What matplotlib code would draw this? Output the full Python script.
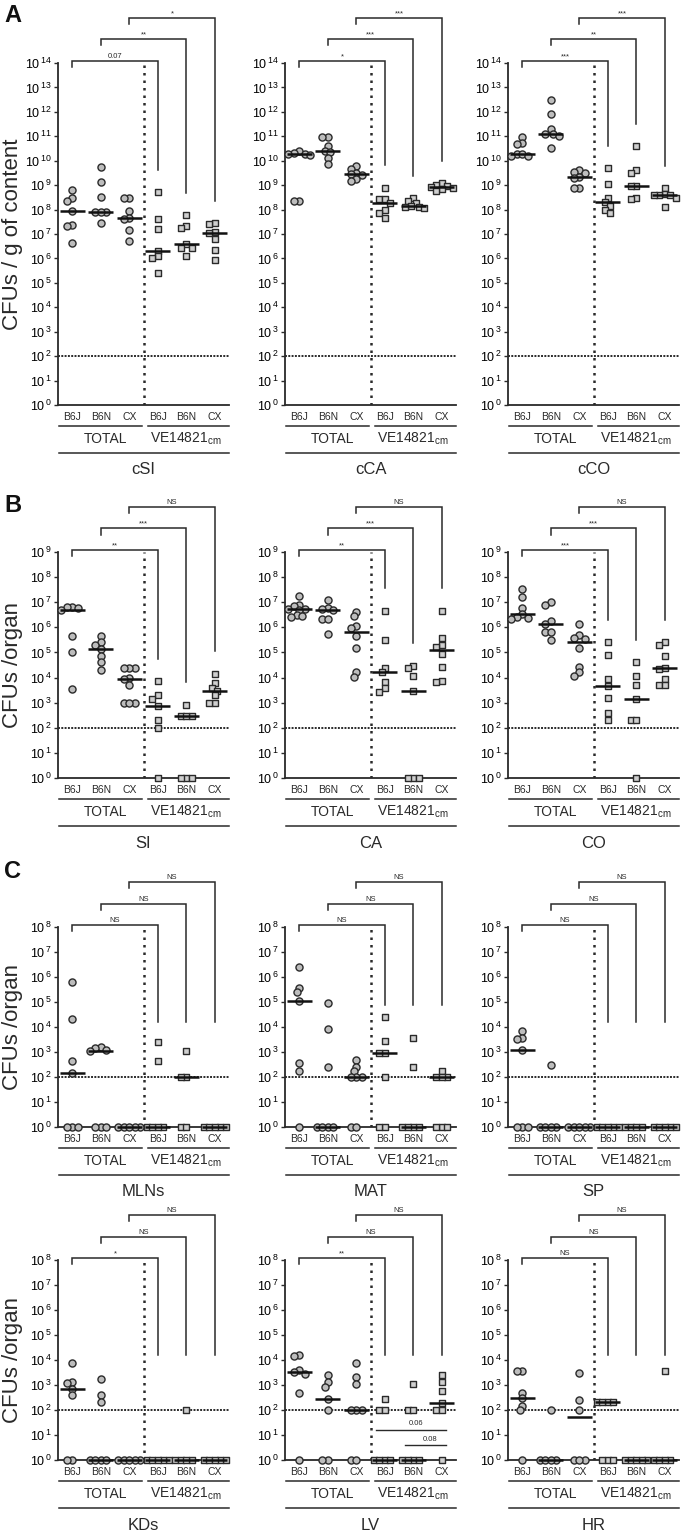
import numpy as np
import matplotlib
matplotlib.use('Agg')
import matplotlib.pyplot as plt
from matplotlib.transforms import ScaledTranslation
from matplotlib.ticker import FuncFormatter, NullLocator

plt.rcParams['font.family'] = ['Liberation Sans', 'DejaVu Sans']
plt.rcParams['mathtext.fontset'] = 'custom'
plt.rcParams['mathtext.rm'] = 'Liberation Sans'
plt.rcParams['mathtext.it'] = 'Liberation Sans:italic'
plt.rcParams['mathtext.bf'] = 'Liberation Sans:bold'

strains = ['B6J', 'B6N', 'CX', 'B6J', 'B6N', 'CX']
# values = CFUs; 1 = below detection (drawn on the axis)
# order: TOTAL B6J, B6N, CX, VE14821cm B6J, B6N, CX
cSI = [[6.6e8, 3e8, 2.3e8, 8.5e7, 2.3e7, 2.1e7, 4.3e6],
       [5.4e9, 1.35e9, 3.2e8, 8e7, 8e7, 8e7, 2.8e7],
       [3e8, 3e8, 9e7, 4.5e7, 4.2e7, 1.5e7, 5e6],
       [5e8, 4e7, 1.6e7, 2.1e6, 1.2e6, 1e6, 2.6e5],
       [6e7, 2.1e7, 1.8e7, 3.9e6, 2.7e6, 2.7e6, 1.3e6],
       [2.8e7, 2.6e7, 1.2e7, 1.1e7, 6e6, 2.3e6, 9e5]]
cCA = [[2.5e10, 2e10, 1.9e10, 1.8e10, 1.7e10, 2.2e8, 2.2e8],
       [9.5e10, 9.5e10, 4e10, 2.5e10, 2.2e10, 1.3e10, 7e9],
       [6e9, 4.5e9, 3e9, 2.8e9, 2.5e9, 1.8e9, 1.5e9],
       [8e8, 2.6e8, 2.6e8, 1.8e8, 1e8, 7.5e7, 4.5e7],
       [2.9e8, 2.2e8, 1.9e8, 1.35e8, 1.3e8, 1.25e8, 1.2e8],
       [1.2e9, 1e9, 9.5e8, 8.7e8, 8e8, 7e8, 6e8]]
cCO = [[9.5e10, 5.5e10, 5e10, 1.8e10, 1.8e10, 1.6e10, 1.5e10],
       [3.2e12, 8.5e11, 1.9e11, 1.3e11, 1.2e11, 1e11, 3.4e10],
       [4e9, 3.6e9, 3.2e9, 2.1e9, 1.9e9, 7.5e8, 7.5e8],
       [5e9, 1.1e9, 3.1e8, 2e8, 1.4e8, 1e8, 7.5e7],
       [4e10, 4e9, 3e9, 9.3e8, 9e8, 2.9e8, 2.6e8],
       [7.5e8, 4.5e8, 4e8, 3.9e8, 3.8e8, 2.9e8, 1.3e8]]
SI = [[6.6e6, 6.3e6, 6e6, 4.9e6, 4.5e5, 1e5, 3.6e3],
      [4.5e5, 2.6e5, 2e5, 1.4e5, 7e4, 4e4, 2e4],
      [2.5e4, 2.5e4, 2.5e4, 1e4, 8.5e3, 5e3, 1e3, 1e3, 1e3],
      [7e3, 2.1e3, 1.45e3, 7.2e2, 2e2, 1e2, 1],
      [8e2, 3e2, 3e2, 3e2, 1, 1, 1],
      [1.4e4, 6e3, 4e3, 3e3, 2e3, 1e3, 1e3]]
CA = [[1.7e7, 8e6, 7e6, 5.5e6, 5.2e6, 5e6, 3.2e6, 2.8e6, 2.6e6],
      [1.2e7, 6e6, 5.5e6, 5e6, 2.1e6, 2.1e6, 5.5e5],
      [4.2e6, 2.8e6, 1.1e6, 9e5, 4.5e5, 1.5e5, 1.7e4, 1.1e4],
      [4.5e6, 3e5, 2.5e4, 1.7e4, 6.5e3, 3.8e3, 2.6e3],
      [3e4, 2.3e4, 1.2e4, 3e3, 1, 1, 1],
      [4.5e6, 3.7e5, 1.9e5, 1.7e5, 8.5e4, 2.7e4, 7.5e3, 6.5e3]]
CO = [[3.5e7, 1.6e7, 6e6, 3.3e6, 2.5e6, 2.3e6, 2.2e6],
      [1e7, 7.8e6, 1.8e6, 1.3e6, 6.5e5, 6.5e5, 3e5],
      [1.3e6, 5e5, 3.6e5, 3.5e5, 1.5e5, 2.7e4, 1.6e4, 1.2e4],
      [2.5e5, 8e4, 8.5e3, 4.8e3, 1.5e3, 4e2, 2e2],
      [4e4, 1.2e4, 4.9e3, 1.4e3, 2e2, 2e2, 1],
      [2.5e5, 2e5, 7e4, 2.5e4, 2.2e4, 9e3, 5e3, 5e3]]
MLNs = [[6.6e5, 2.1e4, 4.5e2, 1.5e2, 1, 1, 1],
        [1.6e3, 1.4e3, 1.2e3, 1.1e3, 1, 1, 1],
        [1, 1, 1, 1, 1],
        [2.4e3, 4.3e2, 1, 1, 1, 1],
        [1.1e3, 1e2, 1e2, 1, 1],
        [1, 1, 1, 1, 1]]
MAT = [[2.4e6, 3.7e5, 2.5e5, 1.1e5, 3.5e2, 1.7e2, 1],
       [9e4, 8.3e3, 2.6e2, 1, 1, 1, 1],
       [5e2, 2.6e2, 1.7e2, 1e2, 1e2, 1e2, 1, 1],
       [2.6e4, 2.7e3, 9e2, 9e2, 1e2, 1, 1],
       [3.7e3, 2.6e2, 1, 1, 1, 1],
       [1.7e2, 1e2, 1e2, 1e2, 1, 1, 1]]
SP = [[6.9e3, 3.7e3, 3.2e3, 1.25e3, 1, 1, 1],
      [2.9e2, 1, 1, 1, 1],
      [1, 1, 1, 1, 1],
      [1, 1, 1, 1, 1],
      [1, 1, 1, 1],
      [1, 1, 1, 1, 1]]
KDs = [[7.4e3, 1.3e3, 1.2e3, 7e2, 4e2, 1, 1],
       [1.7e3, 4e2, 2e2, 1, 1, 1, 1],
       [1, 1, 1, 1, 1],
       [1, 1, 1, 1, 1],
       [1e2, 1, 1, 1, 1],
       [1, 1, 1, 1, 1]]
LV = [[1.6e4, 1.4e4, 4e3, 3.2e3, 2.8e3, 5e2, 1],
      [2.6e3, 1.3e3, 8.7e2, 2.8e2, 1e2, 1, 1],
      [7.4e3, 2e3, 1.1e3, 1e2, 1e2, 1e2, 1, 1],
      [2.8e2, 1e2, 1e2, 1, 1, 1, 1],
      [1.1e3, 1e2, 1e2, 1, 1, 1, 1],
      [2.4e3, 1.3e3, 5.7e2, 1.9e2, 1e2, 1e2, 1]]
HR = [[3.5e3, 3.5e3, 5e2, 3e2, 1.5e2, 1e2, 1],
      [1e2, 1, 1, 1, 1],
      [3e3, 2.5e2, 1e2, 1, 1, 1],
      [2e2, 2e2, 2e2, 2e2, 1, 1, 1],
      [1, 1, 1, 1, 1],
      [3.5e3, 1, 1, 1, 1]]

panels = ['cSI', 'cCA', 'cCO', 'SI', 'CA', 'CO', 'MLNs', 'MAT', 'SP', 'KDs', 'LV', 'HR']
panel_data = [cSI, cCA, cCO, SI, CA, CO, MLNs, MAT, SP, KDs, LV, HR]
sig = [['0.07', '**', '*'], ['*', '***', '***'], ['***', '**', '***'],
       ['**', '***', 'NS'], ['**', '***', 'NS'], ['***', '***', 'NS'],
       ['NS', 'NS', 'NS'], ['NS', 'NS', 'NS'], ['NS', 'NS', 'NS'],
       ['*', 'NS', 'NS'], ['**', 'NS', 'NS'], ['NS', 'NS', 'NS']]
# extra comparisons within VE14821cm in LV: (from, to, y, label)
lv_extra = [(3, 5, 16, '0.06'), (4, 5, 4, '0.08')]

W, H = 685, 1533
fig = plt.figure(figsize=(W / 100, H / 100), dpi=100)
col_left = [58, 285, 508]
rows = [(63, 405, 14), (552, 778, 9), (927, 1127, 8), (1260, 1460, 8)]
ax_w = 171
dark = '#2a2a2a'


def below(ax, dy):
    return ax.get_xaxis_transform() + ScaledTranslation(0, -dy / 100, fig.dpi_scale_trans)


def swarm(ax, x0, vals, dia=7.6):
    # spread points of similar value sideways, allowing some overlap
    placed = []
    out = np.zeros(len(vals))
    inv = ax.transData.inverted()
    for i in np.argsort(vals)[::-1]:
        cx, cy = ax.transData.transform((x0, vals[i]))
        for k in [0, -1, 1, -2, 2, -3, 3, -4, 4, -5, 5, -6, 6]:
            px = cx + k * dia * 0.36
            if all(np.hypot(px - qx, cy - qy) >= dia * 0.66 for qx, qy in placed):
                break
        placed.append((px, cy))
        out[i] = inv.transform((px, cy))[0]
    return out


def bracket(ax, i, j, up, label, leg):
    inv = ax.transData.inverted()
    top = ax.transAxes.transform((0, 1))[1] + up
    yl = inv.transform((0, top))[1]
    y0 = inv.transform((0, top - 6))[1]
    ax.plot([i, i, j, j], [y0, yl, yl, leg], color=dark, lw=1.1, clip_on=False,
            solid_joinstyle='miter')
    ax.annotate(label, xy=((i + j) / 2, yl), xytext=(0, 0.5), textcoords='offset points',
                ha='center', va='bottom', fontsize=5.5, color=dark, annotation_clip=False)


for p, name in enumerate(panels):
    r, c = divmod(p, 3)
    top_px, bot_px, ytop = rows[r]
    ax = fig.add_axes([col_left[c] / W, 1 - bot_px / H, ax_w / W, (bot_px - top_px) / H])
    ax.set_yscale('log')
    ax.set_ylim(1, 10.0 ** ytop)
    ax.set_xlim(-0.5, 5.5)
    ax.set_yticks(10.0 ** np.arange(0, ytop + 1))
    ax.yaxis.set_major_formatter(FuncFormatter(lambda v, pos: '10$^{\\,%d}$' % round(np.log10(v))))
    ax.yaxis.set_minor_locator(NullLocator())
    ax.set_xticks([])
    for s in ['top', 'right']:
        ax.spines[s].set_visible(False)
    for s in ['left', 'bottom']:
        ax.spines[s].set_linewidth(1.3)
        ax.spines[s].set_color(dark)
    ax.tick_params(axis='y', length=3, width=1, color=dark, labelsize=9, pad=1.5)
    ax.set_facecolor('none')

    data = panel_data[p]
    for g, vals in enumerate(data):
        vals = np.array(vals, dtype=float)
        xs = swarm(ax, g, vals)
        mk = 'o' if g < 3 else 's'
        fc = '#bdbdbd' if g < 3 else '#cfcfcf'
        ax.scatter(xs, vals, s=26 if g < 3 else 24, marker=mk, facecolor=fc,
                   edgecolor=dark, linewidth=1.0, clip_on=False, zorder=3)
        med = np.median(vals)
        ax.plot([g - 0.43, g + 0.43], [med, med], color='#111111', lw=1.8,
                solid_capstyle='butt', clip_on=False, zorder=4)

    ax.axhline(100, color=dark, ls=(0, (1, 0.7)), lw=1.4, zorder=2)
    ax.axvline(2.5, color=dark, ls=(0, (1, 2)), lw=1.8, zorder=2)

    # significance brackets
    for k in range(3):
        if r < 2:
            leg = max(data[k + 3]) * 8
        else:
            leg = max(1.6e4, max(max(d) for d in data[3:]) * 3)
        bracket(ax, k, k + 3, 2 + 21.5 * k, sig[p][k], leg)
    if name == 'LV':
        for a, b, yv, lab in lv_extra:
            ax.plot([a - 0.3, b + 0.15], [yv, yv], color=dark, lw=1.0, zorder=2)
            ax.text((a + b) / 2 + 0.1, yv * 1.25, lab, ha='center', va='bottom',
                    fontsize=5.5, color=dark)

    # group labels
    for g, st in enumerate(strains):
        ax.text(g, 0, st, transform=below(ax, 12), ha='center', va='center',
                fontsize=7.5, color=dark)
    for x0, x1 in [(-0.45, 2.45), (2.65, 5.5), (-0.45, 5.5)]:
        dy = 21 if x1 - x0 < 4 else 48
        ax.plot([x0, x1], [0, 0], transform=below(ax, dy), color=dark, lw=1.1,
                clip_on=False)
    ax.text(1.15, 0, 'TOTAL', transform=below(ax, 34), ha='center', va='center',
            fontsize=10, color=dark)
    ax.text(4.0, 0, 'VE14821$_{\\mathrm{cm}}$', transform=below(ax, 34), ha='center',
            va='center', fontsize=10, color=dark)
    ax.text(2.5, 0, name, transform=below(ax, 65), ha='center', va='center',
            fontsize=12, color=dark)

    if c == 0:
        ax.set_ylabel('CFUs / g of content' if r == 0 else 'CFUs /organ',
                      fontsize=16, color=dark)
        ax.yaxis.set_label_coords(-0.205, 0.5)

for lab, ypx in [('A', 16), ('B', 505), ('C', 872)]:
    fig.text(4 / W, 1 - ypx / H, lab, fontsize=17, fontweight='bold', va='center',
             ha='left', color='#111111')

fig.savefig('out.png', dpi=100)
